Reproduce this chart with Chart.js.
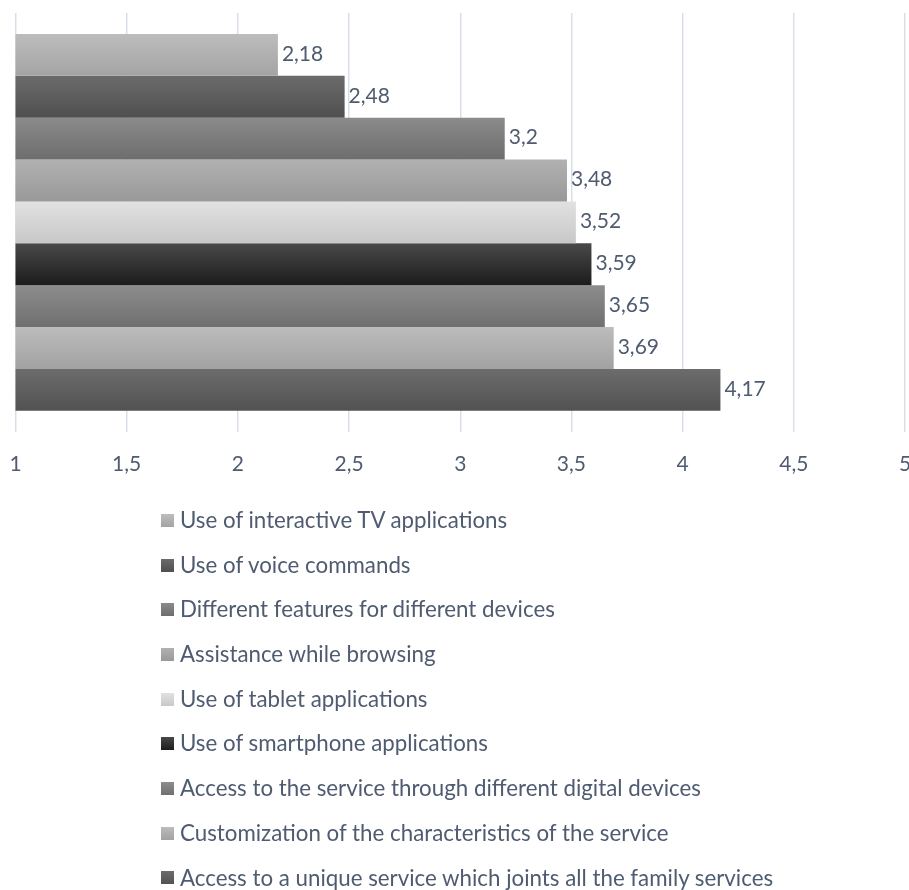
<!DOCTYPE html>
<html>
<head>
<meta charset="utf-8">
<title>Service features</title>
<script src="https://cdn.jsdelivr.net/npm/chart.js@4.4.0/dist/chart.umd.min.js"></script>
<style>
  body { margin: 0; background: #fff; }
  #wrap { position: relative; width: 909px; height: 890px; overflow: hidden; }
  #chartBox { position: absolute; left: 0; top: 0; width: 909px; height: 500px; }
  #legend { position: absolute; left: 161px; top: 498px; margin: 0; padding: 0; list-style: none;
            font-family: Lato, sans-serif; font-size: 22.3px; color: #4f5b70; }
  #legend li { height: 44.7px; line-height: 44.7px; white-space: nowrap; }
  #legend .box { display: inline-block; width: 13px; height: 13px; margin-right: 6px; vertical-align: middle; position: relative; top: -2px; }
</style>
</head>
<body>
<div id="wrap">
  <div id="chartBox"><canvas id="chart"></canvas></div>
  <ul id="legend"></ul>
</div>
<script>
var features = [
  "Use of interactive TV applications",
  "Use of voice commands",
  "Different features for different devices",
  "Assistance while browsing",
  "Use of tablet applications",
  "Use of smartphone applications",
  "Access to the service through different digital devices",
  "Customization of the characteristics of the service",
  "Access to a unique service which joints all the family services"
];
var scores = [2.18, 2.48, 3.2, 3.48, 3.52, 3.59, 3.65, 3.69, 4.17];
var xTicks = [1, 1.5, 2, 2.5, 3, 3.5, 4, 4.5, 5];

// top and bottom shade of each bar's gradient
var shadeTop = ["#bdbdbd", "#6b6b6b", "#8b8b8b", "#b1b1b1", "#e1e1e1", "#494949", "#8d8d8d", "#bcbcbc", "#6c6c6c"];
var shadeBottom = ["#a4a4a4", "#4f4f4f", "#6d6d6d", "#999999", "#c8c8c8", "#1c1c1c", "#6f6f6f", "#a2a2a2", "#525252"];

var textColor = "#4f5b70";

function commaNum(v) {
  return String(v).replace(".", ",");
}

function barGradient(i) {
  return function(context) {
    var el = context.element;
    if (!el || !isFinite(el.y) || !el.height) return shadeBottom[i];
    var g = context.chart.ctx.createLinearGradient(0, el.y - el.height / 2, 0, el.y + el.height / 2);
    g.addColorStop(0, shadeTop[i]);
    g.addColorStop(1, shadeBottom[i]);
    return g;
  };
}

var datasets = features.map(function(name, i) {
  return {
    label: name,
    data: [scores[i]],
    backgroundColor: barGradient(i),
    borderWidth: 0,
    categoryPercentage: 0.9,
    barPercentage: 1
  };
});

// value written just past the end of each bar
var valueLabels = {
  id: "valueLabels",
  afterDatasetsDraw: function(chart) {
    var ctx = chart.ctx;
    ctx.save();
    ctx.font = "21px Lato";
    ctx.fillStyle = textColor;
    ctx.textBaseline = "middle";
    chart.data.datasets.forEach(function(ds, i) {
      var bar = chart.getDatasetMeta(i).data[0];
      ctx.fillText(commaNum(ds.data[0]), bar.x + 4, bar.y - 1);
    });
    ctx.restore();
  }
};

// list legend under the chart, one entry per line
var htmlLegend = {
  id: "htmlLegend",
  afterUpdate: function(chart) {
    var ul = document.getElementById("legend");
    ul.innerHTML = "";
    chart.data.datasets.forEach(function(ds, i) {
      var li = document.createElement("li");
      var box = document.createElement("span");
      box.className = "box";
      box.style.background = "linear-gradient(" + shadeTop[i] + ", " + shadeBottom[i] + ")";
      li.appendChild(box);
      li.appendChild(document.createTextNode(ds.label));
      ul.appendChild(li);
    });
  }
};

Chart.defaults.font.family = "Lato";
Chart.defaults.color = textColor;

var ctx = document.getElementById("chart").getContext("2d");
var chart = new Chart(ctx, {
  type: "bar",
  data: {
    labels: [""],
    datasets: datasets
  },
  options: {
    indexAxis: "y",
    responsive: true,
    maintainAspectRatio: false,
    animation: false,
    layout: { padding: { left: 15.5, right: 4, top: 13, bottom: 3 } },
    plugins: {
      legend: { display: false },
      tooltip: { enabled: false }
    },
    scales: {
      x: {
        min: 1,
        max: 5,
        afterBuildTicks: function(scale) {
          scale.ticks = xTicks.map(function(v) { return { value: v }; });
        },
        afterFit: function(scale) {
          scale.paddingLeft = 0;
          scale.paddingRight = 0;
        },
        grid: { color: "#d9dfe9", lineWidth: 1.5, drawTicks: false },
        border: { display: false },
        ticks: {
          padding: 20,
          font: { size: 21 },
          callback: function(v) { return commaNum(v); }
        }
      },
      y: { display: false }
    }
  },
  plugins: [valueLabels, htmlLegend]
});
// second pass so the gradients can use the laid-out bar sizes
chart.update();
</script>
</body>
</html>
